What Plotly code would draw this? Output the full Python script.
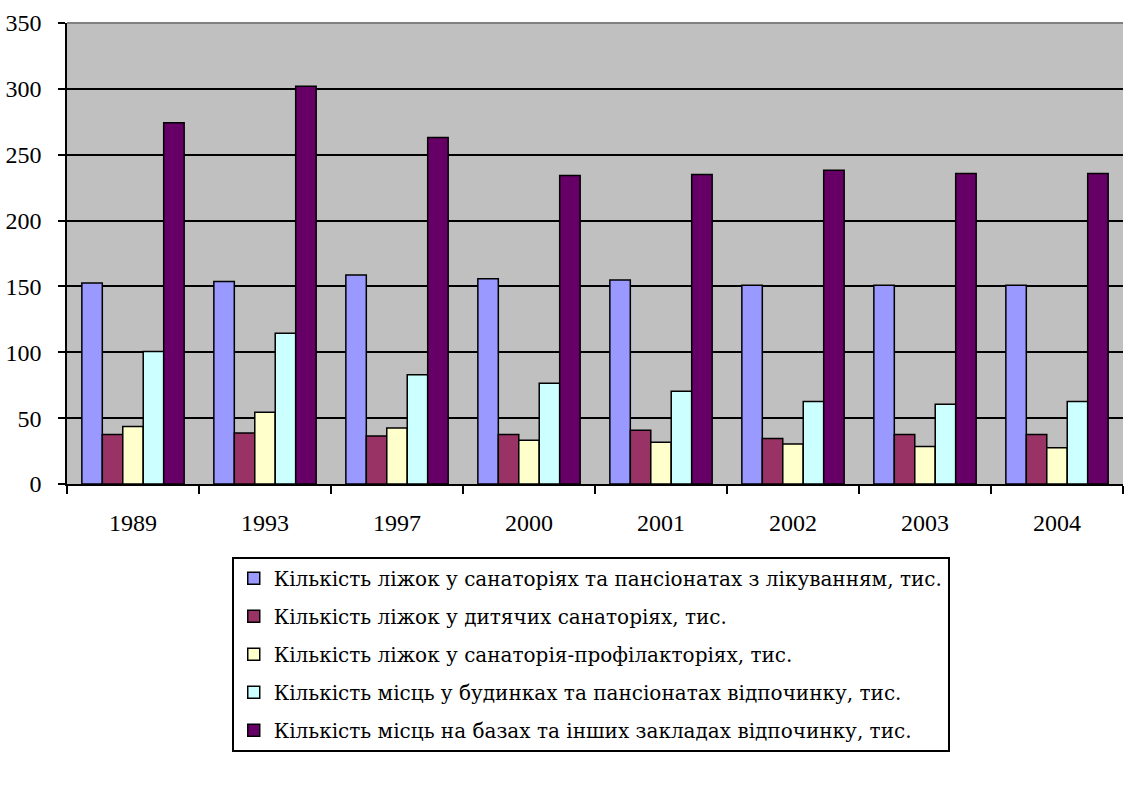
import plotly.graph_objects as go

years = ["1989", "1993", "1997", "2000", "2001", "2002", "2003", "2004"]

series_names = [
    "Кількість ліжок у санаторіях та пансіонатах з лікуванням, тис.",
    "Кількість ліжок у дитячих санаторіях, тис.",
    "Кількість ліжок у санаторія-профілакторіях, тис.",
    "Кількість місць у будинках та пансіонатах відпочинку, тис.",
    "Кількість місць на базах та інших закладах відпочинку, тис.",
]

sanatoria = [152.6, 153.8, 158.6, 155.9, 154.8, 150.8, 150.8, 150.8]
children = [37.5, 38.8, 36.5, 37.5, 40.8, 34.5, 37.5, 37.5]
prophylact = [43.6, 54.5, 42.6, 33.2, 31.7, 30.4, 28.4, 27.6]
rest_houses = [100.6, 114.5, 82.9, 76.5, 70.5, 62.6, 60.6, 62.6]
bases = [274.2, 302.0, 263.0, 234.2, 234.9, 238.2, 235.7, 235.7]

colors = ["#9999FF", "#993366", "#FFFFCC", "#CCFFFF", "#660066"]

fig = go.Figure()
for i, (name, vals) in enumerate(zip(series_names, [sanatoria, children, prophylact, rest_houses, bases])):
    fig.add_trace(go.Bar(
        x=years, y=vals, name=name, legendgroup=f"g{i}",
        marker=dict(color=colors[i], line=dict(color="black", width=1.5)),
    ))

font_family = "Liberation Serif"
legend_family = "DejaVu Serif"

fig.update_layout(
    width=1124, height=785,
    margin=dict(l=67, r=1, t=23, b=301),
    paper_bgcolor="white",
    plot_bgcolor="#C0C0C0",
    barmode="group",
    bargap=0.225,
    bargroupgap=0,
    font=dict(family=font_family, size=24, color="black"),
    showlegend=True,
    legend=dict(
        x=0.156, y=-0.158, xanchor="left", yanchor="top",
        bgcolor="white", bordercolor="black", borderwidth=2,
        font=dict(family=legend_family, size=20, color="black"),
        tracegroupgap=9,
        traceorder="grouped",
    ),
    xaxis=dict(
        type="category",
        showline=True, linecolor="black", linewidth=1.5,
        ticks="outside", tickson="boundaries", ticklen=8, tickcolor="black", tickwidth=1.5,
        showgrid=False,
        ticklabelstandoff=16,
        tickfont=dict(family=font_family, size=24),
    ),
    yaxis=dict(
        range=[0, 350], dtick=50,
        showline=True, linecolor="black", linewidth=1.5,
        ticks="outside", ticklen=7, tickcolor="black", tickwidth=1.5,
        showgrid=True, gridcolor="black", gridwidth=1.5,
        zeroline=False,
        ticklabelstandoff=12,
        tickfont=dict(family=font_family, size=24),
    ),
    shapes=[dict(type="line", xref="paper", yref="paper", x0=0, x1=1, y0=1, y1=1,
                 line=dict(color="#808080", width=2))],
)

fig.write_html("out.html", config={"displayModeBar": False},
               post_script="document.body.style.margin='0';")
